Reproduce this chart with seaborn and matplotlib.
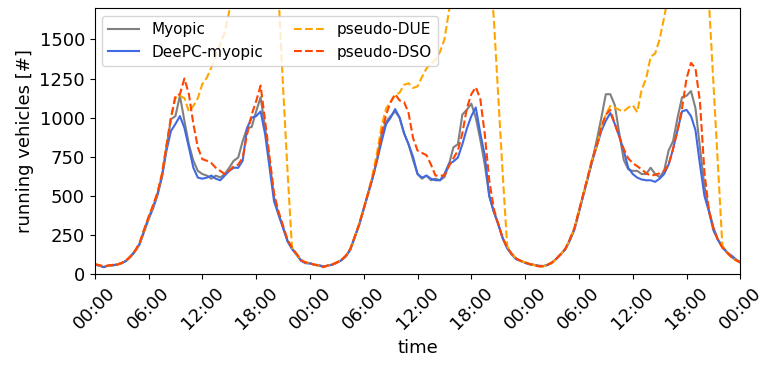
import numpy as np
import pandas as pd
import seaborn as sns
import matplotlib
matplotlib.use("Agg")
import matplotlib.pyplot as plt

# time axis: 3 days, one value every 30 min
hours = np.arange(0, 72.5, 0.5)
tick_hours = [0, 6, 12, 18, 24, 30, 36, 42, 48, 54, 60, 66, 72]
tick_labels = ["00:00", "06:00", "12:00", "18:00"] * 3 + ["00:00"]

myopic = [
    65, 55, 45, 55, 58, 62, 70, 85, 115, 150, 195, 280,
    360, 430, 515, 630, 810, 990, 1010, 1140, 980, 830, 725, 660,
    640, 630, 610, 630, 618, 640, 680, 725, 745, 850, 935, 940,
    1040, 1130, 935, 725, 490, 385, 300, 215, 165, 130, 90, 75,
    70, 62, 58, 50, 55, 62, 75, 90, 115, 160, 240, 320,
    420, 520, 620, 740, 900, 975, 1010, 1040, 1000, 900, 830, 730,
    640, 610, 630, 600, 610, 600, 620, 700, 810, 830, 1020, 1050,
    1090, 1000, 860, 700, 500, 400, 320, 230, 170, 130, 100, 85,
    75, 65, 60, 55, 52, 60, 75, 100, 130, 160, 220, 290,
    400, 510, 620, 730, 860, 1000, 1150, 1150, 1080, 900, 730, 670,
    660, 660, 640, 640, 680, 640, 620, 660, 790, 850, 1000, 1130,
    1140, 1170, 1060, 810, 560, 410, 300, 220, 180, 140, 110, 90,
    75,
]
deepc = [
    60, 55, 45, 55, 55, 62, 70, 85, 110, 145, 190, 270,
    350, 420, 505, 620, 790, 915, 960, 1010, 935, 810, 680, 617,
    610, 617, 630, 610, 600, 630, 660, 680, 680, 725, 935, 1000,
    1010, 1040, 895, 680, 465, 380, 295, 210, 160, 125, 85, 70,
    68, 60, 55, 48, 55, 60, 72, 88, 112, 155, 235, 315,
    415, 515, 615, 730, 850, 960, 1000, 1055, 1000, 900, 830, 750,
    640, 617, 630, 610, 600, 600, 640, 705, 720, 745, 830, 930,
    1010, 1065, 900, 760, 500, 400, 320, 230, 165, 125, 95, 85,
    72, 62, 58, 52, 50, 58, 72, 98, 128, 160, 218, 285,
    395, 505, 615, 725, 820, 915, 980, 1030, 960, 880, 790, 680,
    640, 617, 605, 600, 600, 590, 610, 640, 700, 800, 920, 1040,
    1050, 1010, 920, 700, 500, 400, 280, 220, 170, 140, 120, 95,
    76,
]
pseudo_due = [
    65, 58, 50, 55, 58, 62, 72, 88, 112, 148, 195, 280,
    360, 435, 520, 640, 820, 1000, 1125, 1140, 1125, 1040, 1075, 1125,
    1215, 1255, 1320, 1400, 1470, 1545, 1680, 1790, 1900, 2000, 2100, 2180,
    2250, 2280, 2300, 2200, 2050, 1780, 1200, 660, 165, 130, 90, 75,
    70, 60, 55, 45, 55, 62, 75, 90, 118, 160, 240, 320,
    420, 520, 640, 780, 950, 1060, 1100, 1145, 1160, 1210, 1220, 1190,
    1200, 1260, 1315, 1345, 1370, 1420, 1500, 1680, 1820, 1950, 2050, 2150,
    2220, 2260, 2250, 2150, 2000, 1640, 1140, 640, 180, 130, 100, 85,
    75, 65, 58, 48, 50, 58, 72, 98, 128, 162, 225, 295,
    405, 515, 625, 740, 820, 940, 1020, 1075, 1065, 1050, 1040, 1065,
    1080, 1035, 1180, 1250, 1390, 1410, 1500, 1640, 1790, 1950, 2050, 2150,
    2200, 2250, 2200, 2100, 1950, 1740, 1220, 700, 180, 140, 110, 90,
    75,
]
pseudo_dso = [
    62, 58, 48, 55, 60, 60, 72, 88, 115, 150, 200, 285,
    365, 440, 520, 640, 820, 1000, 1140, 1150, 1250, 1150, 960, 810,
    735, 725, 710, 680, 660, 640, 660, 690, 700, 745, 895, 1020,
    1105, 1205, 980, 745, 515, 400, 310, 220, 170, 130, 90, 75,
    70, 60, 55, 45, 55, 62, 75, 90, 118, 160, 240, 320,
    420, 520, 620, 740, 900, 1020, 1100, 1150, 1110, 1100, 1030, 870,
    790, 775, 760, 700, 630, 630, 630, 690, 740, 790, 900, 1060,
    1150, 1195, 1120, 895, 600, 420, 320, 230, 170, 130, 100, 85,
    75, 65, 58, 50, 52, 60, 75, 100, 130, 165, 225, 295,
    405, 515, 625, 740, 820, 940, 1020, 1050, 960, 880, 800, 740,
    710, 690, 670, 645, 630, 635, 645, 660, 700, 800, 920, 1060,
    1250, 1350, 1315, 1100, 650, 405, 290, 220, 170, 140, 110, 90,
    75,
]

series = {
    "Myopic": (myopic, "grey", "-"),
    "DeePC-myopic": (deepc, "royalblue", "-"),
    "pseudo-DUE": (pseudo_due, "orange", "--"),
    "pseudo-DSO": (pseudo_dso, "orangered", "--"),
}

fig, ax = plt.subplots(figsize=(7.64, 3.70), dpi=100)
fig.subplots_adjust(left=0.124, right=0.969, top=0.978, bottom=0.259)

for name, (vals, color, ls) in series.items():
    df = pd.DataFrame({"time": hours, "value": vals})
    sns.lineplot(data=df, x="time", y="value", ax=ax, color=color,
                 linestyle=ls, linewidth=1.5, label=name)

ax.set_xlim(0, 72)
ax.set_ylim(0, 1700)
ax.set_xticks(tick_hours)
ax.set_xticklabels(tick_labels, rotation=45, fontsize=13)
ax.set_yticks([0, 250, 500, 750, 1000, 1250, 1500])
ax.tick_params(axis="y", labelsize=13)
ax.set_xlabel("time", fontsize=13)
ax.set_ylabel("running vehicles [#]", fontsize=13)
ax.legend(loc="upper left", ncol=2, fontsize=11)

fig.savefig("out.png", dpi=100)
